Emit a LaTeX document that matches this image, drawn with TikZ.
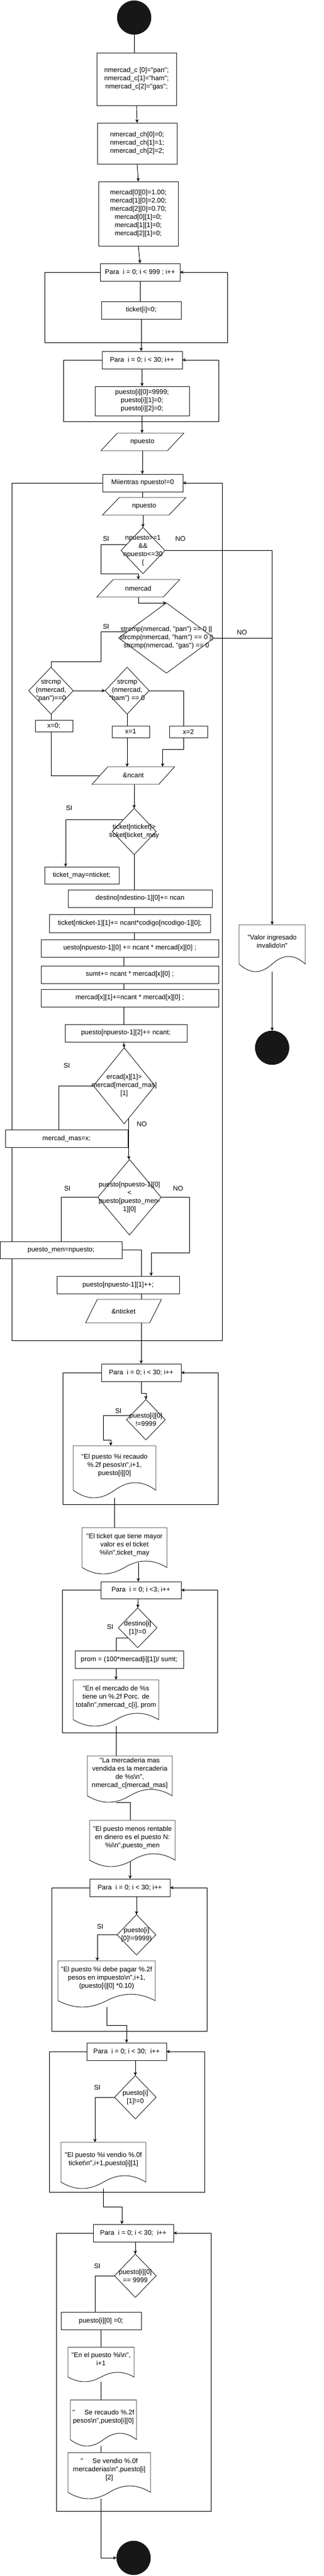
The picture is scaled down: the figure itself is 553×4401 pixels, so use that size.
\documentclass[tikz,border=0pt]{standalone}
\usepackage{fontspec}
\newfontfamily\fcsans{Liberation Sans}
\usetikzlibrary{shapes.geometric,arrows.meta,calc}
\pgfdeclarelayer{background}
\pgfsetlayers{background,main}
\tikzset{
  fcfont/.style={font=\fcsans\fontsize{11.5}{14}\selectfont},
  shp/.style={draw=black!88, line width=0.9pt, fill=white},
  pbox/.style={shp, rectangle, inner sep=0pt, outer sep=0pt, align=center, fcfont},
  geo/.style={rectangle, inner sep=0pt, outer sep=0pt, draw=none},
  dec/.style={shp, diamond, inner sep=0pt, outer sep=0pt},
  txt/.style={inner sep=0pt, align=center, fcfont},
  lbl/.style={inner sep=0pt, fcfont},
  conn/.style={draw=black, line width=0.9pt},
  arr/.style={conn, -{Stealth[length=6pt,width=5.5pt]}},
  termc/.style={circle, fill=black!91, draw=black!91, inner sep=0pt, outer sep=0pt, minimum size=58pt},
}
% name, xl, xr, yt, yb, text
\newcommand\FCbox[6]{\node[pbox, minimum width={#3-#2}, minimum height={#5-#4}] (#1) at ({(#2+#3)/2},{(#4+#5)/2}) {#6};}
% name, cx, yt, yb, mid width, half slant, text
\newcommand\FCio[7]{%
  \node[geo, minimum width={#5}, minimum height={#4-#3}] (#1) at (#2,{(#3+#4)/2}) {};
  \draw[shp] ([xshift=#6]#1.north west) -- ([xshift=#6]#1.north east) -- ([xshift=-#6]#1.south east) -- ([xshift=-#6]#1.south west) -- cycle;
  \node[txt] (#1-t) at (#1) {#7};}
% name, xl, xr, yt, ylow, d, text
\newcommand\FCdoc[7]{%
  \node[geo, minimum width={#3-#2}, minimum height={#5-#4}] (#1) at ({(#2+#3)/2},{(#4+#5)/2}) {};
  \draw[shp] (#2,{#5-#6}) -- (#2,#4) -- (#3,#4) -- (#3,{#5-#6})
    .. controls ({#3-0.17*(#3-#2)},{#5-#6-1.33*#6}) and ({#3-0.33*(#3-#2)},{#5-#6-1.33*#6}) .. ({(#2+#3)/2},{#5-#6})
    .. controls ({#2+0.33*(#3-#2)},{#5-#6+1.33*#6}) and ({#2+0.17*(#3-#2)},{#5-#6+1.33*#6}) .. (#2,{#5-#6}) -- cycle;
  \node[txt] (#1-t) at ({(#2+#3)/2},{(#4+#5-#6)/2-5}) {#7};}
% name, cx, cy, w, h, text
\newcommand\FCdec[6]{%
  \node[dec, minimum width={#4}, minimum height={#5}] (#1) at (#2,#3) {};
  \node[txt] (#1-t) at (#2,#3) {#6};}
\begin{document}
\begin{tikzpicture}[x=1pt,y=-1pt]
\useasboundingbox (0,0) rectangle (553,4401);
\node[termc] (S) at (229,30) {};
\FCbox{B1}{165}{301}{90}{180}{nmercad\_c [0]="pan";\\nmercad\_c[1]="ham";\\nmercad\_c[2]="gas";}
\FCbox{B2}{166}{302}{210}{280}{nmercad\_ch[0]=0;\\nmercad\_ch[1]=1;\\nmercad\_ch[2]=2;}
\FCbox{B3}{168}{304}{310}{420}{mercad[0][0]=1.00;\\mercad[1][0]=2.00;\\mercad[2][0]=0.70;\\mercad[0][1]=0;\\mercad[1][1]=0;\\mercad[2][1]=0;}
\FCbox{F1}{171}{307}{450}{480}{Para\ \ i = 0; i < 999 ; i++}
\FCbox{T1}{173}{309}{515}{545}{ticket[i]=0;}
\FCbox{F2}{174}{311}{600}{630}{Para\ \ i = 0; i < 30; i++}
\FCbox{P1}{162}{323}{660}{710}{puesto[i][0]=9999;\\puesto[i][1]=0;\\puesto[i][2]=0;}
\FCio{IO1}{243}{740}{770}{113.5}{14}{npuesto}
\FCbox{W}{175}{312}{810}{840}{Miientras npuesto!=0}
\FCio{IO2}{246}{850}{880}{113.5}{14.5}{npuesto}
\FCdec{D1}{244}{940.5}{75}{79}{npuesto>=1\\\&\&\\npuesto<=30\\\{}
\FCio{IO3}{236}{990}{1020}{113.5}{14}{nmercad}
\FCdec{D2}{284}{1090}{163}{120}{strcmp(nmercad, "pan") == 0 ||\\strcmp(nmercad, "ham") == 0 ||\\strcmp(nmercad, "gas") == 0}
\FCdec{D3}{87}{1180}{76}{80}{strcmp\\(nmercad,\\"pan")==0}
\FCdec{D4}{217}{1180}{75}{80}{strcmp\\(nmercad,\\"ham") == 0}
\FCbox{X0}{60}{124}{1230}{1250}{x=0;}
\FCbox{X1}{191}{255}{1240}{1260}{x=1}
\FCbox{X2}{289}{354}{1240}{1260}{x=2}
\FCio{IO4}{227.5}{1310}{1340}{114}{13.5}{\&ncant}
\FCdec{D5}{229}{1420.5}{75}{79}{ticket[nticket]>\\ticket[ticket\_may}
\FCbox{TM}{76}{203}{1481}{1510}{ticket\_may=nticket;}
\FCbox{DE}{116}{362}{1520}{1550}{destino[ndestino-1][0]+= ncan}
\FCbox{TK}{84}{359}{1562}{1593}{ticket[nticket-1][1]+= ncant*codigo[ncodigo-1][0];}
\FCbox{UE}{70}{373}{1605}{1635}{uesto[npuesto-1][0] += ncant * mercad[x][0] ;}
\FCbox{SU}{70}{373}{1650}{1680}{sumt+= ncant * mercad[x][0] ;}
\FCbox{ME}{70}{373}{1690}{1720}{mercad[x][1]+=ncant * mercad[x][0] ;}
\FCbox{PU2}{111}{319}{1750}{1780}{puesto[npuesto-1][2]+= ncant;}
\FCdec{D6}{212}{1855}{105}{130}{ercad[x][1]>\\mercad[mercad\_mas]\\{}[1]}
\FCbox{MM}{9}{218}{1930}{1960}{mercad\_mas=x;}
\FCdec{D7}{221}{2045.5}{108}{129}{puesto[npuesto-1][0]\\<\\puesto[puesto\_men-\\1][0]}
\FCbox{PM}{0.5}{208}{2121}{2150}{puesto\_men=npuesto;}
\FCbox{PU3}{97}{306}{2180}{2210}{puesto[npuesto-1][1]++;}
\FCio{IO5}{210.75}{2220}{2260}{109.5}{10}{\&nticket}
\FCbox{F3}{173}{309}{2330}{2360}{Para\ \ i = 0; i < 30; i++}
\FCdec{D8}{249}{2425.5}{66}{69}{puesto[i][0]\\!=9999}
\FCdoc{DOC1}{125}{266}{2470}{2559}{13}{"El puesto \%i recaudo\\\%.2f pesos\textbackslash n",i+1,\\puesto[i][0]}
\FCdoc{DOC2}{140}{285}{2610}{2689}{11}{"El ticket que tiene mayor\\valor es el ticket\\\%i\textbackslash n",ticket\_may}
\FCbox{F4}{172}{309}{2702}{2731}{Para\ \ i = 0; i <3; i++}
\FCdec{D9}{235}{2781}{66}{68}{destino[i]\\{}[1]!=0}
\FCbox{PR}{128}{313}{2820}{2850}{prom = (100*mercad[i][1])/ sumt;}
\FCdoc{DOC3}{125}{271}{2870}{2949}{11}{"En el mercado de \%s\\tiene un \%.2f Porc. de\\total\textbackslash n",nmercad\_c[i], prom}
\FCdoc{DOC4}{149}{294}{3000}{3079}{11}{"La mercaderia mas\\vendida es la mercaderia\\de \%s\textbackslash n",\\nmercad\_c[mercad\_mas]}
\FCdoc{DOC5}{153}{299}{3110}{3189}{11}{"El puesto menos rentable\\en dinero es el puesto N:\\\%i\textbackslash n",puesto\_men}
\FCbox{F5}{153}{290}{3210}{3240}{Para\ \ i = 0; i < 30; i++}
\FCdec{D10}{233}{3305.5}{66}{69}{puesto[i]\\{}[0]!=9999)}
\FCdoc{DOC6}{99}{265}{3350}{3429}{11}{"El puesto \%i debe pagar \%.2f\\pesos en impuesto\textbackslash n",i+1,\\(puesto[i][0] *0.10)}
\FCbox{F6}{148}{284}{3490}{3520}{Para\ \ i = 0; i < 30;\ \ i++}
\FCdec{D11}{231}{3583}{71}{74}{puesto[i]\\{}[1]!=0}
\FCdoc{DOC7}{104}{249}{3660}{3739}{11}{"El puesto \%i vendio \%.0f\\ticket\textbackslash n",i+1,puesto[i][1]}
\FCbox{F7}{159}{296}{3800}{3830}{Para\ \ i = 0; i < 30;\ \ i++}
\FCdec{D12}{231}{3888}{71}{74}{puesto[i][0]\\== 9999}
\FCbox{P0}{104}{241}{3950}{3980}{puesto[i][0] =0;}
\FCdoc{DOC8}{116}{229}{4010}{4069}{8}{"En el puesto \%i\textbackslash n",\\i+1}
\FCdoc{DOC9}{120}{233}{4100}{4179}{11}{"\ \ \ \ \ Se recaudo \%.2f\\pesos\textbackslash n",puesto[i][0]}
\FCdoc{DOC10}{116}{257}{4190}{4269}{11}{"\ \ \ \ \ Se vendio \%.0f\\mercaderias\textbackslash n",puesto[i]\\{}[2]}
\node[termc] (E2) at (228,4370) {};
\FCdoc{VAL}{408}{521}{1580}{1660}{13}{"Valor ingresado\\invalido\textbackslash n"}
\node[termc] (E1) at (464.5,1790) {};
% labels
\node[lbl] (si1) at (181,921) {SI};
\node[lbl] (no1) at (308,921) {NO};
\node[lbl] (si2) at (181,1071) {SI};
\node[lbl] (no2) at (413,1081) {NO};
\node[lbl] (si3) at (118,1381) {SI};
\node[lbl] (si4) at (114,1821) {SI};
\node[lbl] (no3) at (242,1921) {NO};
\node[lbl] (si5) at (115,2031) {SI};
\node[lbl] (no4) at (304,2031) {NO};
\node[lbl] (si6) at (202,2411) {SI};
\node[lbl] (si7) at (188,2780) {SI};
\node[lbl] (si8) at (171,3291) {SI};
\node[lbl] (si9) at (166,3566) {SI};
\node[lbl] (si10) at (166,3871) {SI};
\begin{pgfonlayer}{background}
\coordinate (L1a) at (76,585);   \coordinate (L1b) at (388,585);
\coordinate (L2a) at (108,720);  \coordinate (L2b) at (373,720);
\coordinate (Wa) at (20,2290);   \coordinate (Wb) at (379,2290);
\coordinate (L3a) at (107,2570); \coordinate (L3b) at (372,2570);
\coordinate (L4a) at (106,2960); \coordinate (L4b) at (371,2960);
\coordinate (L5a) at (88,3470);  \coordinate (L5b) at (353,3470);
\coordinate (L6a) at (84,3745);  \coordinate (L6b) at (349,3745);
\coordinate (L7a) at (96,4290);  \coordinate (L7b) at (360,4290);
\coordinate (k1) at (172,980);
\coordinate (k2) at (172,1130);
\coordinate (k3) at (313,1280);
\coordinate (k4) at (323,2140);
\coordinate (k5) at (176,2460);
\draw[conn] (S.south) -- (S.south |- B1.north);
\draw[arr] (B1.south) -- (B2.north);
\draw[arr] (B2.south) -- (B3.north);
\draw[arr] (B3.south) -- (F1.north);
\draw[conn] (F1.south) -- (F1.south |- T1.north);
\draw[arr] (T1.south) -- (T1.south |- F2.north);
\draw[arr] (F1.west) -| (L1a) -- (L1b) |- (F1.east);
\draw[arr] (F2.south) -- (F2.south |- P1.north);
\draw[arr] (F2.west) -| (L2a) -- (L2b) |- (F2.east);
\draw[arr] (P1.south) -- (P1.south |- IO1.north);
\draw[arr] (IO1.south) -- (IO1.south |- W.north);
\draw[conn] (W.south) -- (W.south |- IO2.north);
\draw[arr] (W.west) -| (Wa) -- (Wb) |- (W.east);
\draw[arr] (D1.north |- IO2.south) -- (D1.north);
\draw[arr] ($(D1.west)!0.25!(D1.north)$) -| (k1) -| (IO3.north);
\draw[arr] (D1.east) -| (VAL.north);
\draw[arr] (IO3.south) |- (D2.north);
\draw[conn] ($(D2.west)!0.17!(D2.north)$) -| (k2) -| (D3.north);
\draw[conn] (D2.east) -- (D2.east -| VAL.north);
\draw[arr] (D3.east) -- (D4.west);
\draw[conn] (D3.south) -- (D3.south |- X0.north);
\draw[conn] (D3.south |- X0.south) |- (IO4.west);
\draw[conn] (D4.south) -- (D4.south |- X1.north);
\draw[arr] (D4.south |- X1.south) -- (D4.south |- IO4.north);
\draw[conn] (D4.east) -| (k3 |- X2.north);
\draw[arr] (k3 |- X2.south) -- (k3) -| ([xshift=50]IO4.north);
\draw[arr] (D5.north |- IO4.south) -- (D5.north);
\draw[arr] ($(D5.west)!0.5!(D5.north)$) -| ([xshift=-27.5]TM.north);
\draw[conn] (D5.south) -- (D5.south |- DE.north);
\draw[conn] (D5.south |- DE.south) -- (D5.south |- TK.north);
\draw[conn] (D5.south |- TK.south) -- (D5.south |- UE.north);
\draw[conn] ([xshift=-10.5]UE.south) -- ([xshift=-10.5]SU.north);
\draw[conn] ([xshift=-10.5]SU.south) -- ([xshift=-10.5]ME.north);
\draw[conn] ([xshift=-10.5]ME.south) -- ([xshift=-4]PU2.north);
\draw[arr] ([xshift=-4]PU2.south) -- (D6.north);
\draw[conn] (D6.west) -| ([xshift=-13.5]MM.north);
\coordinate (d6n) at ($(D6.south)!0.15!(D6.east)$);
\draw[arr] (d6n) -- (d6n |- D7.north);
\draw[conn] (D7.west) -| (PM.north);
\draw[arr] (D7.east) -| (k4) -| ([xshift=56.5]PU3.north);
\draw[conn] (PM.east) -| ([xshift=39.5]PU3.north);
\draw[conn] ([xshift=39.5]PU3.south) -- (F3.north |- IO5.north);
\draw[arr] (F3.north |- IO5.south) -- (F3.north);
\draw[arr] (F3.west) -| (L3a) -- (L3b) |- (F3.east);
\draw[arr] (F3.south) -- ([yshift=-20]F3.south) -| (D8.north);
\coordinate (d8s) at ($(D8.west)!0.2!(D8.north)$);
\draw[arr] (d8s) -| (k5) -| ([xshift=-6.5]DOC1.north);
\draw[conn] (DOC1.south) -- (DOC1.south |- DOC2.north);
\draw[arr] ([xshift=23.5,yshift=19]DOC2.south) -- ([xshift=-4.5]F4.north);
\draw[arr] (F4.west) -| (L4a) -- (L4b) |- (F4.east);
\draw[arr] ([xshift=-4.5]F4.south) -- (D9.north);
\coordinate (d9s) at ($(D9.west)!0.5!(D9.south)$);
\draw[conn] (d9s) -| ([xshift=-22.5]PR.north);
\draw[arr] ([xshift=-22.5]PR.south) -- (DOC3.north);
\draw[conn] (DOC3.south) -- (DOC3.south |- DOC4.north);
\draw[conn] ([xshift=-23.5]DOC4.south) -| ([xshift=-4]DOC5.north);
\draw[arr] ([xshift=-4,yshift=8]DOC5.south) -- ([xshift=-4]DOC5.south |- F5.north);
\draw[arr] (F5.west) -| (L5a) -- (L5b) |- (F5.east);
\draw[arr] (F5.south -| D10.north) -- (D10.north);
\draw[arr] (D10.west) -| ([xshift=-16]DOC6.north);
\draw[arr] (DOC6.south) -- ([yshift=-31]DOC6.south) -| (F6.north);
\draw[arr] (F6.west) -| (L6a) -- (L6b) |- (F6.east);
\draw[arr] (F6.south -| D11.north) -- (D11.north);
\draw[arr] (D11.west) -| ([xshift=-14.5]DOC7.north);
\draw[arr] (DOC7.south) -- ([yshift=-31]DOC7.south) -| ([xshift=-19.5]F7.north);
\draw[arr] (F7.west) -| (L7a) -- (L7b) |- (F7.east);
\draw[arr] (F7.south -| D12.north) -- (D12.north);
\draw[conn] (D12.west) -| ([xshift=-10.5]P0.north);
\draw[conn] (P0.south) -- (DOC8.north);
\draw[conn] (DOC8.south) -- (DOC8.south |- DOC9.north);
\draw[conn] (DOC8.south |- DOC9.south) -- (DOC8.south |- DOC10.north);
\draw[arr] (DOC8.south |- DOC10.south) |- (E2.west);
\draw[arr] (VAL.south) -- (E1.north);
\end{pgfonlayer}
\end{tikzpicture}
\end{document}
